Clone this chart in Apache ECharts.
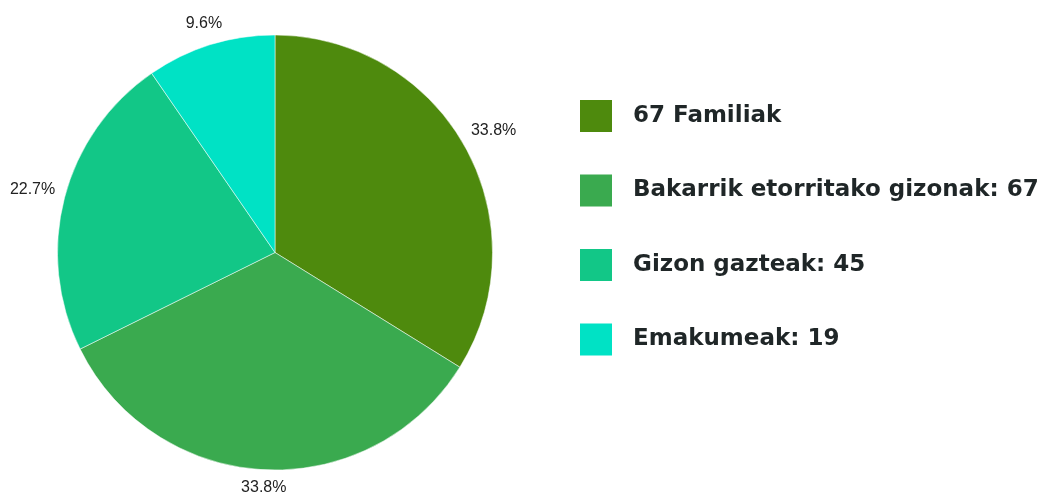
<!DOCTYPE html>
<html>
<head>
<meta charset="utf-8">
<script src="https://cdn.jsdelivr.net/npm/echarts@6/dist/echarts.min.js"></script>
<style>
html,body{margin:0;padding:0;background:#fff;}
#chart{width:1044px;height:502px;}
</style>
</head>
<body>
<div id="chart"></div>
<script>
// legend names and slice values
const names = ['67 Familiak', 'Bakarrik etorritako gizonak: 67', 'Gizon gazteak: 45', 'Emakumeak: 19']
const values = [67, 67, 45, 19]
const colors = ['#4E8A0D', '#3AAA4F', '#12C787', '#00E2C5']

const chartObj = echarts.init(document.getElementById('chart'))
const total = values.reduce((a, b) => a + b, 0)
const pieCenter = [275, 252.5]
const pieRadius = 217.5
const labelOffset = 9

let pieData = names.map((n, i) => ({ name: n, value: values[i] }))

let option = {
	color: colors,
	animation: false,
	legend: {
		orient: 'vertical',
		left: 580,
		top: 100,
		padding: 0,
		itemWidth: 32,
		itemHeight: 32,
		itemGap: 42.5,
		icon: 'rect',
		selectedMode: false,
		itemStyle: { borderWidth: 0 },
		data: names,
		textStyle: {
			fontFamily: 'DejaVu Sans',
			fontWeight: 'bold',
			fontSize: 23,
			color: '#1f2627',
			padding: [0, 0, 0, 16]
		}
	},
	series: [
		{
			type: 'pie',
			center: pieCenter,
			radius: [0, pieRadius],
			startAngle: 90,
			clockwise: true,
			silent: true,
			itemStyle: { borderColor: '#fff', borderWidth: 0.5 },
			labelLine: { show: false },
			label: {
				show: true,
				position: 'inside',
				color: '#222',
				fontSize: 16,
				fontFamily: 'Liberation Sans, Arial, sans-serif',
				formatter: p => (p.value / total * 100).toFixed(1) + '%'
			},
			// push each percent label just outside the slice edge, along its mid angle
			labelLayout: function (params) {
				const r = params.labelRect
				const lx = r.x + r.width / 2, ly = r.y + r.height / 2
				const dx = lx - pieCenter[0], dy = ly - pieCenter[1]
				const d = Math.hypot(dx, dy) || 1
				const ux = dx / d, uy = dy / d
				const ext = Math.abs(ux) * r.width / 2 + Math.abs(uy) * r.height / 2
				const dist = pieRadius + labelOffset + ext
				return {
					x: pieCenter[0] + ux * dist,
					y: pieCenter[1] + uy * dist,
					align: 'center',
					verticalAlign: 'middle'
				}
			},
			data: pieData
		}
	]
}
option && chartObj.setOption(option)
</script>
</body>
</html>
